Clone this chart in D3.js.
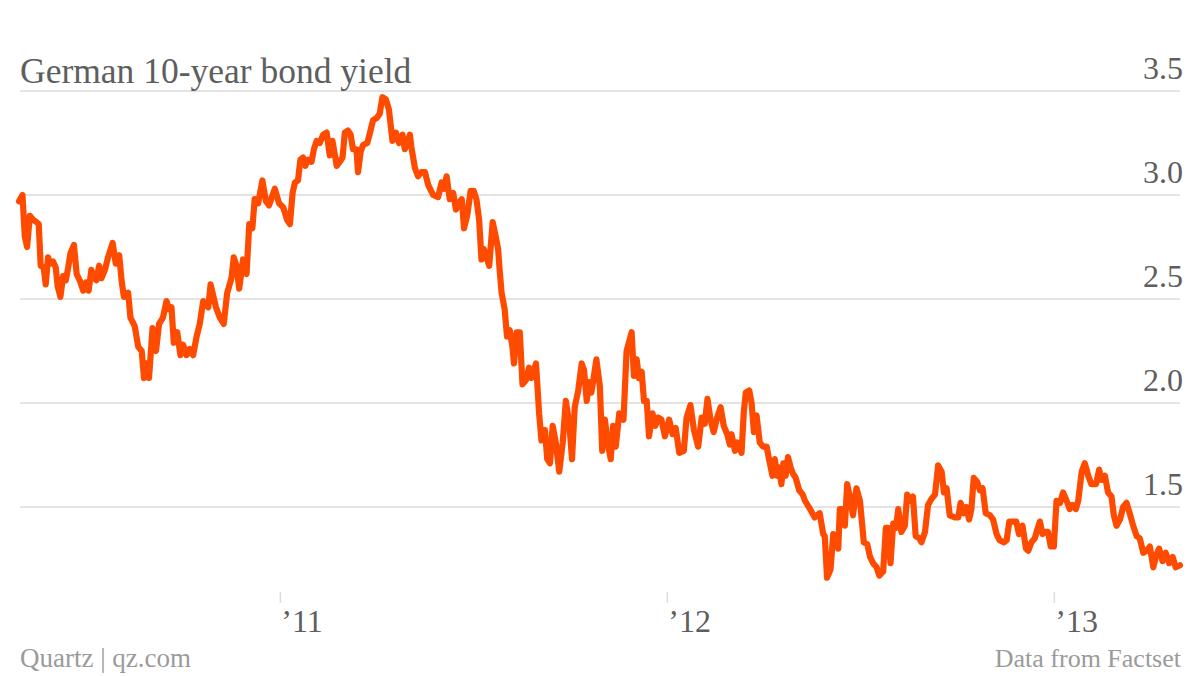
<!DOCTYPE html>
<html><head><meta charset="utf-8">
<script src="https://cdn.jsdelivr.net/npm/d3@7"></script>
<style>html,body{margin:0;padding:0;background:#fff;} svg{display:block;}</style>
</head><body><svg id="chart" width="1200" height="676"></svg>
<script>
const title = "German 10-year bond yield";
const sourceLeft = "Quartz | qz.com";
const sourceRight = "Data from Factset";
const yTicks = [1.5, 2.0, 2.5, 3.0, 3.5];
const xTicks = [2011, 2012, 2013];

// time as decimal years
const years = [
2010.326,2010.335,2010.341,2010.347,2010.354,2010.363,2010.371,2010.377,2010.382,2010.390,2010.395,2010.401,2010.407,2010.414,2010.421,2010.426,2010.433,2010.440,2010.447,2010.453,2010.459,2010.468,2010.475,2010.483,2010.492,2010.499,2010.506,2010.513,2010.520,2010.526,2010.533,2010.539,2010.548,2010.556,2010.568,2010.576,2010.585,2010.591,2010.597,2010.608,2010.614,2010.625,2010.634,2010.643,2010.649,2010.656,2010.662,2010.671,2010.680,2010.688,2010.698,2010.707,2010.714,2010.720,2010.726,2010.735,2010.743,2010.750,2010.759,2010.767,2010.776,
2010.785,2010.793,2010.802,2010.815,2010.821,2010.835,2010.845,2010.855,2010.864,2010.875,2010.881,2010.888,2010.895,2010.905,2010.914,2010.921,2010.929,2010.935,2010.944,2010.955,2010.964,2010.972,2010.987,2010.998,
2011.009,2011.019,2011.026,2011.033,2011.039,2011.047,2011.053,2011.060,2011.066,2011.073,2011.082,2011.088,2011.095,2011.103,2011.112,2011.121,2011.129,2011.136,2011.147,2011.155,2011.162,2011.168,2011.176,2011.183,2011.189,2011.198,2011.202,2011.209,2011.215,2011.226,2011.233,2011.241,2011.250,2011.258,2011.265,2011.274,2011.282,2011.291,2011.300,2011.308,2011.317,2011.323,2011.329,2011.336,2011.340,2011.349,2011.357,2011.366,2011.375,
2011.383,2011.396,2011.409,2011.418,2011.424,2011.431,2011.439,2011.448,2011.455,2011.461,2011.470,2011.476,2011.484,2011.493,2011.501,2011.508,2011.515,2011.521,2011.527,2011.534,2011.541,2011.550,2011.558,2011.564,2011.568,2011.573,2011.581,2011.587,2011.594,2011.601,2011.605,2011.612,2011.620,2011.627,2011.636,2011.644,2011.650,2011.662,2011.670,2011.676,2011.685,2011.691,2011.698,2011.705,2011.713,2011.722,2011.731,2011.739,2011.748,2011.755,2011.762,2011.771,2011.780,2011.786,2011.793,2011.799,2011.805,2011.810,2011.818,2011.827,2011.833,2011.840,2011.847,2011.855,2011.861,2011.868,
2011.877,2011.888,2011.896,2011.909,2011.915,2011.922,2011.928,2011.935,2011.941,2011.948,2011.954,2011.963,2011.970,2011.978,2011.986,2011.995,
2012.006,2012.015,2012.023,2012.032,2012.044,2012.051,2012.061,2012.070,2012.081,2012.090,2012.098,2012.105,2012.113,2012.121,2012.130,2012.139,2012.147,2012.156,2012.163,2012.167,2012.176,2012.182,2012.193,2012.199,2012.204,2012.213,2012.219,2012.225,2012.232,2012.240,2012.249,2012.258,2012.264,2012.273,2012.279,2012.285,2012.290,2012.296,2012.301,2012.307,2012.313,2012.320,2012.326,2012.333,2012.342,2012.351,2012.357,2012.370,2012.382,
2012.395,2012.404,2012.408,2012.414,2012.423,2012.430,2012.437,2012.443,2012.447,2012.454,2012.460,2012.466,2012.475,2012.481,2012.490,2012.499,2012.509,2012.518,2012.525,2012.533,2012.542,2012.549,2012.559,2012.566,2012.572,2012.578,2012.585,2012.592,2012.598,2012.606,2012.615,2012.621,2012.630,2012.636,2012.643,2012.652,2012.658,2012.667,2012.675,2012.684,2012.693,2012.701,2012.710,2012.716,2012.723,2012.731,2012.744,2012.753,2012.759,2012.767,2012.774,2012.781,2012.787,2012.793,2012.802,2012.809,2012.816,2012.824,2012.835,2012.843,2012.852,2012.860,2012.871,2012.878,
2012.885,2012.894,2012.903,2012.910,2012.919,2012.928,2012.934,2012.942,2012.951,2012.957,2012.964,2012.971,2012.979,2012.985,2012.992,
2013.000,2013.007,2013.016,2013.024,2013.033,2013.041,2013.048,2013.057,2013.063,2013.072,2013.080,2013.089,2013.097,2013.109,2013.117,2013.123,2013.132,2013.140,2013.149,2013.155,2013.162,2013.171,2013.179,2013.188,2013.196,2013.205,2013.214,2013.222,2013.231,2013.240,2013.248,2013.257,2013.265,2013.272,2013.281,2013.289,2013.298,2013.307,2013.315,2013.326
];

// yield, percent
const yields = [
2.97,3.00,2.80,2.75,2.90,2.88,2.87,2.86,2.66,2.65,2.57,2.70,2.67,2.68,2.65,2.56,2.51,2.61,2.59,2.65,2.72,2.76,2.62,2.59,2.54,2.58,2.54,2.64,2.60,2.59,2.66,2.60,2.64,2.70,2.77,2.67,2.71,2.59,2.51,2.53,2.41,2.37,2.27,2.25,2.12,2.19,2.12,2.36,2.25,2.38,2.41,2.49,2.45,2.46,2.29,2.34,2.23,2.28,2.23,2.26,2.23,
2.32,2.38,2.49,2.46,2.57,2.46,2.41,2.38,2.53,2.60,2.70,2.66,2.55,2.69,2.62,2.86,2.84,2.98,2.96,3.07,2.97,2.95,3.03,2.96,
2.94,2.88,2.86,3.01,3.06,3.07,3.17,3.18,3.14,3.17,3.16,3.22,3.26,3.25,3.29,3.30,3.19,3.26,3.14,3.16,3.18,3.30,3.31,3.29,3.22,3.22,3.11,3.21,3.24,3.25,3.30,3.36,3.37,3.39,3.47,3.46,3.41,3.26,3.30,3.25,3.29,3.22,3.25,3.29,3.23,3.13,3.09,3.11,3.11,
3.05,3.00,2.99,3.06,3.03,3.09,2.98,3.01,2.93,2.96,2.98,2.84,2.90,3.02,3.02,2.98,2.88,2.69,2.74,2.70,2.66,2.87,2.80,2.74,2.64,2.53,2.45,2.32,2.35,2.27,2.19,2.34,2.34,2.09,2.11,2.17,2.12,2.19,1.95,1.82,1.87,1.73,1.71,1.89,1.81,1.67,1.81,2.01,1.90,1.73,1.98,2.06,2.19,2.16,2.01,2.10,2.05,2.11,2.21,2.08,1.77,1.92,1.81,1.73,1.89,1.79,
1.95,1.92,2.25,2.34,2.13,2.21,2.12,2.15,2.01,2.01,1.84,1.95,1.89,1.93,1.92,1.84,
1.92,1.85,1.88,1.76,1.77,1.93,1.99,1.87,1.79,1.93,1.90,2.02,1.92,1.86,1.93,1.98,1.89,1.85,1.80,1.85,1.77,1.81,1.76,1.96,2.05,2.06,2.00,1.86,1.94,1.81,1.79,1.79,1.73,1.65,1.73,1.65,1.69,1.61,1.71,1.65,1.74,1.69,1.66,1.64,1.58,1.56,1.53,1.49,1.45,
1.47,1.37,1.36,1.16,1.20,1.37,1.36,1.30,1.49,1.49,1.41,1.61,1.53,1.46,1.59,1.53,1.33,1.32,1.26,1.23,1.21,1.17,1.19,1.40,1.40,1.23,1.42,1.40,1.49,1.38,1.41,1.56,1.53,1.55,1.36,1.35,1.33,1.38,1.51,1.54,1.56,1.70,1.67,1.57,1.59,1.46,1.45,1.45,1.52,1.47,1.50,1.44,1.49,1.64,1.62,1.58,1.59,1.47,1.46,1.44,1.37,1.34,1.33,1.34,
1.43,1.43,1.43,1.37,1.41,1.30,1.29,1.33,1.35,1.39,1.43,1.37,1.38,1.38,1.31,
1.31,1.53,1.52,1.57,1.53,1.49,1.51,1.49,1.53,1.67,1.71,1.65,1.61,1.61,1.68,1.63,1.65,1.57,1.55,1.46,1.41,1.44,1.50,1.52,1.47,1.41,1.36,1.35,1.28,1.29,1.31,1.21,1.27,1.30,1.24,1.28,1.23,1.26,1.21,1.22
];

const FONT = "'Liberation Serif','DejaVu Serif',serif";
const TEXT = "#5e5e5e";
const MUTED = "#9a9a9a";

const svg = d3.select("#chart");
const x = d3.scaleLinear().domain([d3.min(years), d3.max(years)]).range([19, 1180]);
const y = d3.scaleLinear().domain([1, 3.5]).range([611, 91]);

// gridlines
svg.append("g").selectAll("line").data(yTicks).join("line")
  .attr("x1", 20).attr("x2", 1180)
  .attr("y1", d => y(d)).attr("y2", d => y(d))
  .attr("stroke", "#e3e3e3").attr("stroke-width", 2);

// y labels
svg.append("g").selectAll("text").data(yTicks).join("text")
  .attr("x", 1183).attr("y", d => y(d) - 12)
  .attr("text-anchor", "end")
  .style("font-family", FONT).style("font-size", "32px").attr("fill", TEXT)
  .text(d => d.toFixed(1));

// x axis
const xAxis = svg.append("g").attr("transform", "translate(0,592)")
  .call(d3.axisBottom(x).tickValues(xTicks).tickSize(11)
    .tickFormat(d => "\u2019" + String(d).slice(2)));
xAxis.select(".domain").remove();
xAxis.selectAll(".tick line").attr("stroke", "#dddddd").attr("stroke-width", 1.5);
xAxis.selectAll(".tick text")
  .attr("y", 40).attr("dy", 0).attr("x", 1)
  .attr("text-anchor", "start")
  .style("font-family", FONT).style("font-size", "32px").attr("fill", TEXT);

// line
const line = d3.line()
  .x((d, i) => x(years[i]))
  .y(d => y(d));
svg.append("path").datum(yields)
  .attr("d", line)
  .attr("fill", "none")
  .attr("stroke", "#ff4b00")
  .attr("stroke-width", 6.2)
  .attr("stroke-linejoin", "round")
  .attr("stroke-linecap", "round");

// title
svg.append("text").attr("x", 20).attr("y", 83)
  .style("font-family", FONT).style("font-size", "35.5px").attr("fill", TEXT)
  .text(title);

// footer
svg.append("text").attr("x", 20).attr("y", 667)
  .style("font-family", FONT).style("font-size", "27px").attr("fill", MUTED)
  .text(sourceLeft);
svg.append("text").attr("x", 1181).attr("y", 667).attr("text-anchor", "end")
  .style("font-family", FONT).style("font-size", "26px").attr("fill", MUTED)
  .text(sourceRight);
</script>
</body></html>
